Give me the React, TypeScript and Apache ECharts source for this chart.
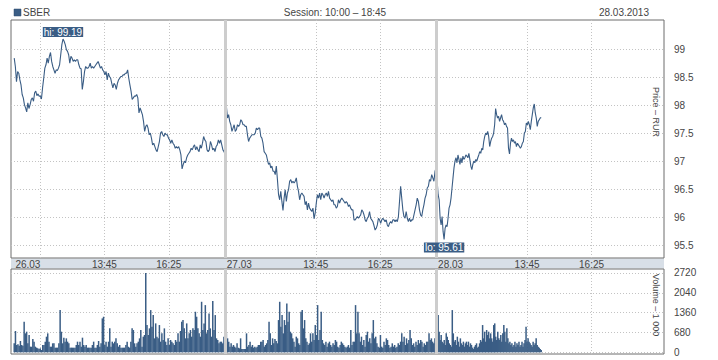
import React, { useEffect, useRef } from 'react';
import * as echarts from 'echarts';

// ---- data ----
const TICKER = 'SBER';
const SESSION_OPEN = '10:00';
const SESSION_CLOSE = '18:45';
const REPORT_DATE = '28.03.2013';
const DAY_LABELS = ['26.03', '27.03', '28.03'];
const TIME_LABELS = ['13:45', '16:25'];
const EXTRA_GRID_TIME = '11:05'; // extra vertical grid line, first day only
const PRICE_TICKS = [95.5, 96, 96.5, 97, 97.5, 98, 98.5, 99];
const VOLUME_TICKS = [0, 680, 1360, 2040, 2720];
const PRICE_TITLE = 'Price – RUR';
const VOLUME_TITLE = 'Volume – 1 000';

// first / last sample time of each day
const DAY_SPANS = [
  ['10:01', '18:45'],
  ['10:03', '18:44'],
  ['10:04', '14:20'],
];

const PRICE_D1 = [
  98.85, 98.70, 98.43, 98.61, 98.58, 98.46, 98.37, 98.20, 98.14, 98.02,
  97.96, 97.89, 98.05, 97.95, 98.02, 98.11, 98.14, 98.08, 98.23, 98.26,
  98.18, 98.21, 98.17, 98.17, 98.12, 98.32, 98.49, 98.67, 98.73, 98.85,
  98.76, 98.88, 98.95, 98.79, 98.70, 98.64, 98.58, 98.64, 98.63, 98.67,
  98.73, 98.91, 99.09, 99.19, 99.15, 99.09, 99.00, 98.97, 98.91, 98.76,
  98.88, 98.85, 98.79, 98.82, 98.79, 98.82, 98.82, 98.73, 98.67, 98.66,
  98.29, 98.43, 98.61, 98.70, 98.67, 98.67, 98.70, 98.76, 98.67, 98.70,
  98.67, 98.70, 98.73, 98.76, 98.79, 98.73, 98.67, 98.70, 98.64, 98.61,
  98.55, 98.61, 98.46, 98.58, 98.52, 98.49, 98.40, 98.32, 98.40, 98.37,
  98.29, 98.40, 98.46, 98.49, 98.52, 98.52, 98.55, 98.55, 98.58, 98.58,
  98.64, 98.49, 98.37, 98.26, 98.11, 98.14, 98.17, 98.17, 98.20, 98.14,
  97.87, 97.96, 97.90, 97.84, 97.72, 97.54, 97.63, 97.66, 97.60, 97.48,
  97.51, 97.42, 97.30, 97.33, 97.27, 97.21, 97.18, 97.27, 97.36, 97.51,
  97.54, 97.48, 97.45, 97.51, 97.48, 97.48, 97.42, 97.39, 97.33, 97.39,
  97.33, 97.30, 97.24, 97.27, 97.24, 97.27, 97.21, 97.12, 96.87, 96.95,
  97.01, 96.98, 97.07, 97.12, 97.15, 97.18, 97.24, 97.21, 97.27, 97.30,
  97.21, 97.27, 97.21, 97.18, 97.30, 97.24, 97.33, 97.45, 97.39, 97.36,
  97.21, 97.18, 97.21, 97.36, 97.30, 97.21, 97.24, 97.18, 97.27, 97.30,
  97.39, 97.33, 97.39, 97.30, 97.21, 97.18, 97.12,
];

const PRICE_D2 = [
  97.99, 97.78, 97.84, 97.72, 97.66, 97.54, 97.60, 97.66, 97.54, 97.57,
  97.66, 97.63, 97.66, 97.75, 97.72, 97.66, 97.66, 97.63, 97.63, 97.48,
  97.36, 97.42, 97.45, 97.48, 97.48, 97.48, 97.51, 97.60, 97.57, 97.60,
  97.60, 97.45, 97.42, 97.33, 97.18, 97.15, 97.12, 97.03, 96.95, 96.98,
  96.89, 96.92, 96.83, 96.83, 96.77, 96.92, 96.68, 96.41, 96.32, 96.47,
  96.29, 96.13, 96.35, 96.50, 96.29, 96.44, 96.50, 96.65, 96.68, 96.62,
  96.65, 96.62, 96.65, 96.71, 96.56, 96.47, 96.32, 96.41, 96.44, 96.41,
  96.38, 96.23, 96.29, 96.14, 96.26, 96.17, 96.14, 96.11, 96.17, 95.98,
  96.08, 96.26, 96.41, 96.35, 96.44, 96.32, 96.44, 96.41, 96.35, 96.41,
  96.44, 96.38, 96.47, 96.35, 96.32, 96.29, 96.32, 96.23, 96.23, 96.17,
  96.20, 96.32, 96.26, 96.32, 96.35, 96.32, 96.29, 96.26, 96.29, 96.26,
  96.20, 96.23, 96.17, 96.14, 96.14, 95.96, 95.96, 95.99, 96.02, 95.99,
  96.02, 96.05, 96.14, 96.11, 96.05, 95.96, 95.93, 95.99, 96.02, 96.11,
  95.99, 95.96, 95.93, 95.86, 95.78, 95.81, 95.87, 95.99, 95.96, 95.90,
  95.96, 95.99, 95.96, 95.93, 95.96, 95.87, 95.84, 95.90, 95.93, 95.90,
  95.96, 95.96, 95.93, 95.96, 95.93, 96.02, 96.29, 96.56, 96.35, 96.14,
  96.02, 95.99, 96.11, 95.99, 95.93, 95.99, 95.93, 95.96, 95.96, 96.05,
  96.14, 96.23, 96.35, 96.29, 96.14, 96.05, 96.02, 96.14, 96.23, 96.35,
  96.41, 96.53, 96.56, 96.68, 96.65, 96.77, 96.71, 96.65, 96.83, 96.89,
];

const PRICE_D3 = [
  96.41, 96.32, 95.99, 95.87, 96.02, 95.75, 95.61, 95.81, 95.87, 95.84,
  95.99, 96.17, 96.23, 96.35, 96.53, 96.71, 96.89, 97.01, 97.07, 96.98,
  97.12, 97.04, 96.95, 97.07, 96.98, 97.10, 97.04, 97.07, 97.12, 97.10,
  97.07, 97.15, 97.04, 96.92, 96.86, 96.95, 97.01, 96.98, 97.04, 97.01,
  97.07, 97.12, 97.18, 97.15, 97.24, 97.21, 97.36, 97.45, 97.51, 97.48,
  97.54, 97.45, 97.27, 97.36, 97.42, 97.45, 97.51, 97.66, 97.95, 97.84,
  97.78, 97.81, 97.72, 97.78, 97.84, 97.75, 97.72, 97.66, 97.69, 97.63,
  97.60, 97.24, 97.14, 97.33, 97.42, 97.36, 97.39, 97.33, 97.36, 97.27,
  97.33, 97.30, 97.27, 97.24, 97.27, 97.33, 97.36, 97.51, 97.54, 97.69,
  97.66, 97.72, 97.66, 97.57, 97.72, 97.84, 97.96, 98.03, 97.87, 97.78,
  97.63, 97.72, 97.75, 97.78, 97.79,
];

const VOL_D1 = [
  308, 730, 250, 273, 228, 388, 250, 228, 1049, 650,
  707, 308, 593, 194, 194, 456, 365, 194, 160, 137,
  114, 137, 80, 250, 250, 365, 536, 650, 365, 194,
  194, 308, 308, 160, 160, 160, 308, 1448, 707, 308,
  502, 365, 479, 365, 308, 160, 160, 160, 160, 160,
  250, 365, 250, 365, 194, 502, 250, 194, 250, 160,
  160, 160, 160, 250, 365, 160, 160, 250, 388, 194,
  308, 1163, 1220, 250, 365, 194, 365, 821, 194, 365,
  308, 365, 479, 308, 194, 250, 160, 160, 160, 160,
  250, 365, 194, 160, 365, 821, 764, 308, 194, 308,
  365, 479, 764, 194, 536, 593, 2720, 935, 593, 821,
  1448, 878, 1277, 479, 992, 536, 479, 935, 365, 650,
  422, 821, 365, 250, 479, 250, 422, 365, 308, 250,
  422, 365, 650, 365, 730, 1049, 1106, 821, 479, 992,
  479, 650, 764, 536, 821, 764, 1391, 1220, 821, 650,
  536, 1733, 764, 992, 1619, 650, 764, 1334, 821, 536,
  1756, 764, 1277, 479, 422, 308, 365, 365, 308, 536,
  650,
];

const VOL_D2 = [
  650, 479, 365, 194, 308, 194, 250, 194, 160, 308,
  160, 137, 479, 114, 114, 114, 114, 650, 194, 250,
  365, 194, 250, 160, 194, 160, 194, 250, 250, 365,
  365, 422, 194, 250, 308, 422, 1049, 650, 250, 479,
  308, 456, 388, 308, 1106, 1733, 878, 1277, 650, 1106,
  935, 1676, 1049, 1391, 707, 650, 479, 365, 194, 536,
  479, 308, 250, 1391, 1448, 821, 1106, 479, 365, 250,
  308, 650, 365, 650, 422, 935, 593, 1619, 422, 764,
  1391, 422, 308, 250, 365, 194, 308, 365, 250, 194,
  308, 250, 422, 365, 194, 160, 250, 365, 308, 250,
  194, 160, 194, 250, 160, 764, 250, 365, 365, 1619,
  650, 1391, 650, 365, 536, 250, 422, 194, 593, 707,
  365, 479, 308, 650, 1106, 479, 536, 308, 194, 160,
  593, 194, 160, 365, 250, 479, 422, 250, 160, 194,
  308, 194, 250, 160, 194, 308, 250, 365, 650, 365,
  536, 250, 479, 308, 422, 764, 479, 250, 308, 194,
  365, 250, 422, 308, 422, 365, 194, 308, 250, 365,
  365, 650, 422, 479, 365, 308, 479, 935,
];

const VOL_D3 = [
  1277, 707, 422, 593, 365, 308, 422, 250, 650, 536,
  422, 308, 250, 194, 1448, 650, 365, 422, 250, 536,
  365, 194, 479, 308, 250, 365, 194, 308, 365, 250,
  365, 194, 308, 250, 160, 114, 194, 250, 308, 160,
  194, 308, 422, 365, 935, 479, 707, 365, 764, 593,
  707, 479, 650, 479, 365, 935, 992, 536, 422, 707,
  479, 422, 593, 365, 650, 935, 707, 365, 821, 479,
  308, 365, 250, 308, 194, 250, 365, 194, 308, 250,
  365, 194, 250, 365, 194, 308, 422, 878, 365, 479,
  365, 308, 250, 194, 365, 250, 308, 479, 250, 194,
  160, 114, 80,
];

// ---- helpers ----
const toMin = (t: string) => {
  const [h, m] = t.split(':').map(Number);
  return h * 60 + m;
};
const DAY_LEN = toMin(SESSION_CLOSE) - toMin(SESSION_OPEN);
const dayMin = (d: number, t: string) => d * DAY_LEN + toMin(t) - toMin(SESSION_OPEN);

function buildSeries(days: number[][]) {
  const out: number[][] = [];
  days.forEach((arr, d) => {
    const a = dayMin(d, DAY_SPANS[d][0]);
    const b = dayMin(d, DAY_SPANS[d][1]);
    const step = (b - a) / (arr.length - 1);
    arr.forEach((v, i) => out.push([a + i * step, v]));
  });
  return out;
}

const COLOR = '#3a5d85';
const TEXT = '#454545';
const FONT = 'Liberation Sans';
const X_MIN = -7;
const X_MAX = 1615;
const DATE_LABEL_OFFSET = 35;

export default function App() {
  const ref = useRef<HTMLDivElement>(null);

  useEffect(() => {
    if (!ref.current) return;
    const chart = echarts.init(ref.current, undefined, { renderer: 'svg' });

    const priceData = buildSeries([PRICE_D1, PRICE_D2, PRICE_D3]);
    const volData = buildSeries([VOL_D1, VOL_D2, VOL_D3]);

    const gridX: number[] = [dayMin(0, EXTRA_GRID_TIME)];
    const labelMap = new Map<number, string>();
    DAY_LABELS.forEach((lab, d) => {
      labelMap.set(d * DAY_LEN + DATE_LABEL_OFFSET, lab);
      TIME_LABELS.forEach((t) => {
        const v = dayMin(d, t);
        gridX.push(v);
        labelMap.set(v, t);
      });
    });
    const labelX = Array.from(labelMap.keys());
    const dividers = DAY_LABELS.slice(1).map((_, i) => ({ xAxis: (i + 1) * DAY_LEN }));

    const dotted = { color: '#c3c3c3', type: [1, 2] as any, width: 1 };
    const dividerLine = {
      silent: true,
      symbol: 'none',
      label: { show: false },
      lineStyle: { color: '#cdcdcd', width: 3, type: 'solid', opacity: 1 },
      emphasis: { disabled: true },
      data: dividers,
    };

    const markLabel = {
      show: true,
      color: '#ffffff',
      backgroundColor: '#3a5d85',
      padding: [0, 1, 0, 1],
      fontSize: 10,
      lineHeight: 10,
      fontFamily: FONT,
    };

    chart.setOption({
      animation: false,
      backgroundColor: '#ffffff',
      textStyle: { fontFamily: FONT, fontSize: 10, color: TEXT },
      grid: [
        { left: 11, top: 20, width: 653, height: 238, show: true, borderColor: '#6c6c6c', borderWidth: 1, backgroundColor: '#fff' },
        { left: 11, top: 269, width: 653, height: 85, show: true, borderColor: '#6c6c6c', borderWidth: 1, backgroundColor: '#fff' },
      ],
      xAxis: [
        {
          type: 'value', gridIndex: 0, min: X_MIN, max: X_MAX,
          axisLine: { show: false },
          axisTick: { show: false, customValues: gridX },
          axisLabel: {
            customValues: labelX, margin: 1, fontSize: 10, color: TEXT, fontFamily: FONT,
            formatter: (v: number) => labelMap.get(v) ?? '',
          },
          splitLine: { show: true, lineStyle: dotted },
        },
        {
          type: 'value', gridIndex: 1, min: X_MIN, max: X_MAX,
          axisLine: { show: false },
          axisTick: { show: false, customValues: gridX },
          axisLabel: { show: false },
          splitLine: { show: true, lineStyle: dotted },
        },
      ],
      yAxis: [
        {
          type: 'value', gridIndex: 0, position: 'right', min: 95.28, max: 99.53,
          axisLine: { show: false },
          axisTick: { show: false, customValues: PRICE_TICKS },
          axisLabel: { customValues: PRICE_TICKS, margin: 10, fontSize: 10, color: TEXT, fontFamily: FONT, formatter: (v: number) => String(v) },
          splitLine: { show: true, lineStyle: dotted },
        },
        {
          type: 'value', gridIndex: 1, position: 'right', min: -58, max: 2857,
          axisLine: { show: false },
          axisTick: { show: false, customValues: VOLUME_TICKS },
          axisLabel: { customValues: VOLUME_TICKS, margin: 10, fontSize: 10, color: TEXT, fontFamily: FONT, formatter: (v: number) => String(v) },
          splitLine: { show: true, lineStyle: dotted },
        },
      ],
      series: [
        { type: 'line', xAxisIndex: 0, yAxisIndex: 0, data: [], z: 1, markLine: dividerLine },
        { type: 'line', xAxisIndex: 1, yAxisIndex: 1, data: [], z: 1, markLine: dividerLine },
        {
          type: 'line', xAxisIndex: 0, yAxisIndex: 0, z: 3,
          data: priceData,
          showSymbol: false, symbol: 'none', silent: true,
          lineStyle: { color: COLOR, width: 1.1 },
          itemStyle: { color: COLOR },
          markPoint: {
            symbol: 'circle', symbolSize: 2,
            itemStyle: { color: 'rgba(0,0,0,0)' },
            label: markLabel,
            data: [
              { type: 'max', name: 'hi', label: { ...markLabel, position: 'top', distance: 1, formatter: (p: any) => 'hi: ' + Number(p.value).toFixed(2) } },
              { type: 'min', name: 'lo', label: { ...markLabel, position: 'bottom', distance: 2, formatter: (p: any) => 'lo: ' + Number(p.value).toFixed(2) } },
            ],
          },
        },
        {
          type: 'bar', xAxisIndex: 1, yAxisIndex: 1, z: 3,
          data: volData, barWidth: 1.5, silent: true,
          itemStyle: { color: COLOR },
        },
      ],
      graphic: [
        { type: 'rect', z: -1, shape: { x: 11, y: 258.5, width: 653, height: 10 }, style: { fill: '#d8dfe7' }, silent: true },
        { type: 'rect', shape: { x: 14, y: 9, width: 7, height: 7 }, style: { fill: COLOR, stroke: '#2c4a6e', lineWidth: 0.5 }, silent: true },
        { type: 'text', x: 23, y: 12.5, style: { text: TICKER, font: `10px "${FONT}"`, fill: TEXT, align: 'left', verticalAlign: 'middle' } },
        { type: 'text', x: 335, y: 12.5, style: { text: `Session: ${SESSION_OPEN} – ${SESSION_CLOSE}`, font: `10px "${FONT}"`, fill: TEXT, align: 'center', verticalAlign: 'middle' } },
        { type: 'text', x: 649, y: 12.5, style: { text: REPORT_DATE, font: `10px "${FONT}"`, fill: TEXT, align: 'right', verticalAlign: 'middle' } },
        { type: 'text', x: 656, y: 112, rotation: -Math.PI / 2, style: { text: PRICE_TITLE, font: `9px "${FONT}"`, fill: TEXT, align: 'center', verticalAlign: 'middle' } },
        { type: 'text', x: 656, y: 305, rotation: -Math.PI / 2, style: { text: VOLUME_TITLE, font: `9px "${FONT}"`, fill: TEXT, align: 'center', verticalAlign: 'middle' } },
      ],
    });

    return () => chart.dispose();
  }, []);

  return (
    <div
      ref={ref}
      style={{ position: 'absolute', left: 0, top: 0, width: 718, height: 360, background: '#fff' }}
    />
  );
}
